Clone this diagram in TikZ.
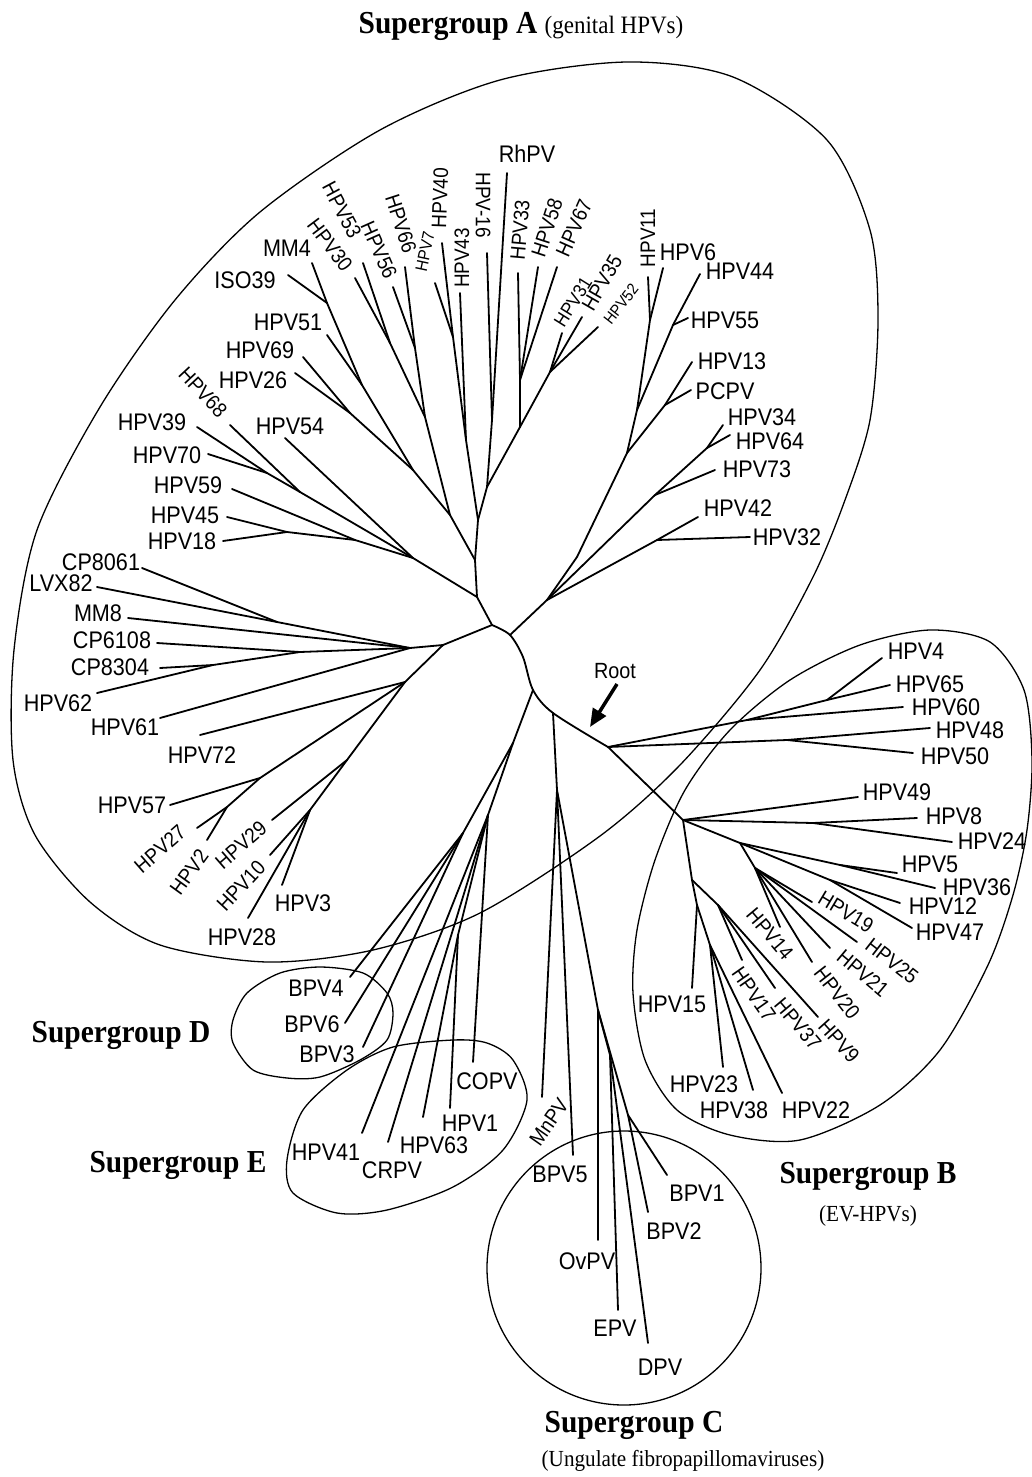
\documentclass[tikz,border=0pt]{standalone}
\usepackage{fontspec}
\setmainfont{Liberation Serif}
\newfontfamily\labfont{Liberation Sans}[FakeStretch=0.9]
\newfontfamily\titfont{Liberation Serif}[FakeStretch=0.92]
\usetikzlibrary{arrows.meta}
\begin{document}
\begin{tikzpicture}[x=1pt,y=-1pt,
  br/.style={line width=1.8pt,line cap=round,line join=round},
  encl/.style={line width=1.3pt},
  lab/.style={font=\labfont\fontsize{24}{24}\selectfont,inner sep=0pt},
  rlab/.style={font=\labfont\fontsize{21}{21}\selectfont,inner sep=0pt},
  slab/.style={font=\labfont\fontsize{19}{19}\selectfont,inner sep=0pt},
  tit/.style={font=\titfont\bfseries\fontsize{32}{32}\selectfont,inner sep=0pt,anchor=base},
  sub/.style={font=\titfont\fontsize{23}{23}\selectfont,inner sep=0pt,anchor=base}]
\fill[white] (0,0) rectangle (1032,1477);
\useasboundingbox (0,0) rectangle (1032,1477);

% ---------- enclosures ----------
\draw[encl] plot[smooth cycle] coordinates {(627,62) (733,77) (827,140) (870,230) (878,320) (870,420) (845,500) (813,577) (760,670) (680,765) (600,836) (480,913) (373,950) (267,962) (160,945) (90,902) (35,835) (13,760) (14,650) (37,530) (100,407) (175,300) (260,212) (380,130) (500,80)};
\draw[encl] plot[smooth cycle] coordinates {(637,930) (655,860) (685,790) (730,730) (790,680) (860,645) (930,630) (990,642) (1024,690) (1032,760) (1027,830) (1013,895) (988,965) (940,1050) (880,1105) (800,1140) (730,1135) (677,1110) (645,1060) (633,993)};
\draw[encl] plot[smooth cycle] coordinates {(320,967) (363,973) (387,993) (393,1013) (387,1040) (360,1060) (320,1077) (287,1078) (253,1070) (233,1043) (233,1020) (247,993) (280,973)};
\draw[encl] plot[smooth cycle] coordinates {(453,1040) (487,1043) (513,1060) (527,1100) (503,1150) (453,1187) (387,1210) (337,1213) (293,1193) (287,1160) (303,1110) (347,1070) (393,1047)};
\draw[encl] (624,1268) circle[radius=137pt];

% ---------- internal coordinates ----------
\coordinate (X1) at (492,625); \coordinate (X2) at (510,635); \coordinate (X3) at (533,690);
\coordinate (X4) at (553,713); \coordinate (X5) at (608,747); \coordinate (X6) at (683,820);
\coordinate (X7) at (740,843);
\coordinate (A1) at (477,597); \coordinate (A2) at (475,560); \coordinate (A3) at (413,558);
\coordinate (J59) at (355,540); \coordinate (J1845) at (287,532); \coordinate (J68) at (300,492);
\coordinate (J3970) at (267,473);
\coordinate (JL) at (450,515); \coordinate (J26m) at (413,470); \coordinate (J69) at (350,413);
\coordinate (J51) at (362,385); \coordinate (Jmm) at (327,303);
\coordinate (Jm1) at (425,417); \coordinate (J3053) at (390,343); \coordinate (J5666) at (415,348);
\coordinate (S1) at (478,520); \coordinate (Jc) at (466,440); \coordinate (J740) at (453,337);
\coordinate (Jr) at (487,487); \coordinate (J16) at (492,420); \coordinate (Jmr) at (520,427);
\coordinate (J3358) at (520,380); \coordinate (J3135) at (550,372);
\coordinate (R0) at (547,600); \coordinate (R1) at (577,557); \coordinate (J627) at (627,453);
\coordinate (Jup) at (637,410); \coordinate (J611) at (650,320); \coordinate (J4455) at (673,325);
\coordinate (J13) at (665,405); \coordinate (J3473) at (655,495); \coordinate (J3464) at (707,448);
\coordinate (J4232) at (657,540);
\coordinate (L0) at (443,645); \coordinate (Jh) at (410,648); \coordinate (Jlo) at (405,682);
\coordinate (J8061) at (277,622); \coordinate (J6108) at (300,652); \coordinate (J8304) at (213,665);
\coordinate (J57) at (260,778); \coordinate (J272) at (227,807); \coordinate (J2910) at (347,760);
\coordinate (J328) at (310,810);
\coordinate (JB1) at (747,720); \coordinate (J465) at (827,700); \coordinate (J4850) at (787,740);
\coordinate (J824) at (813,823); \coordinate (J536) at (840,865); \coordinate (J1247) at (830,880);
\coordinate (J19) at (755,868); \coordinate (JBl) at (692,880); \coordinate (J15) at (697,905);
\coordinate (J2338) at (710,945); \coordinate (J17) at (718,905);
\coordinate (JDE) at (513,743); \coordinate (JD) at (463,833); \coordinate (JE) at (488,815);
\coordinate (J2) at (458,935);
\coordinate (JC0) at (557,790); \coordinate (JC1) at (598,1010); \coordinate (JC2) at (610,1055);
\coordinate (JC3) at (628,1115);

% ---------- leaf ends ----------
\coordinate (lMM4) at (312,263); \coordinate (lISO39) at (288,275); \coordinate (lHPV30) at (355,278);
\coordinate (lHPV53) at (363,263); \coordinate (lHPV56) at (393,287); \coordinate (lHPV66) at (405,267);
\coordinate (lHPV7) at (435,283); \coordinate (lHPV40) at (442,243); \coordinate (lHPV43) at (460,293);
\coordinate (lHPV16) at (487,253); \coordinate (lRhPV) at (507,173); \coordinate (lHPV33) at (518,273);
\coordinate (lHPV58) at (538,267); \coordinate (lHPV67) at (557,267); \coordinate (lHPV31) at (562,333);
\coordinate (lHPV35) at (582,317); \coordinate (lHPV52) at (598,327); \coordinate (lHPV11) at (648,277);
\coordinate (lHPV6) at (663,268); \coordinate (lHPV44) at (700,274); \coordinate (lHPV55) at (688,318);
\coordinate (lHPV13) at (692,362); \coordinate (lPCPV) at (691,390); \coordinate (lHPV34) at (723,425);
\coordinate (lHPV64) at (730,435); \coordinate (lHPV73) at (715,470); \coordinate (lHPV42) at (698,517);
\coordinate (lHPV32) at (750,537);
\coordinate (lHPV51) at (327,335); \coordinate (lHPV69) at (303,357); \coordinate (lHPV26) at (295,373);
\coordinate (lHPV68) at (230,425); \coordinate (lHPV39) at (197,427); \coordinate (lHPV54) at (285,438);
\coordinate (lHPV70) at (208,454); \coordinate (lHPV59) at (232,489); \coordinate (lHPV45) at (227,517);
\coordinate (lHPV18) at (223,541);
\coordinate (lCP8061) at (142,568); \coordinate (lLVX82) at (97,587); \coordinate (lMM8) at (128,618);
\coordinate (lCP6108) at (157,643); \coordinate (lCP8304) at (160,668); \coordinate (lHPV62) at (97,693);
\coordinate (lHPV61) at (160,718); \coordinate (lHPV72) at (200,735); \coordinate (lHPV57) at (170,805);
\coordinate (lHPV27) at (197,828); \coordinate (lHPV2) at (207,840); \coordinate (lHPV29) at (272,820);
\coordinate (lHPV10) at (270,855); \coordinate (lHPV3) at (282,885); \coordinate (lHPV28) at (248,918);
\coordinate (lBPV4) at (350,977); \coordinate (lBPV6) at (345,1023); \coordinate (lBPV3) at (363,1047);
\coordinate (lHPV41) at (362,1133); \coordinate (lCRPV) at (388,1142); \coordinate (lHPV63) at (423,1117);
\coordinate (lHPV1) at (450,1108); \coordinate (lCOPV) at (473,1062); \coordinate (lMnPV) at (542,1097);
\coordinate (lBPV5) at (573,1155); \coordinate (lBPV1) at (667,1175); \coordinate (lBPV2) at (648,1212);
\coordinate (lOvPV) at (598,1240); \coordinate (lEPV) at (618,1310); \coordinate (lDPV) at (648,1343);
\coordinate (lHPV4) at (882,658); \coordinate (lHPV65) at (890,685); \coordinate (lHPV60) at (903,707);
\coordinate (lHPV48) at (930,728); \coordinate (lHPV50) at (913,753); \coordinate (lHPV49) at (858,797);
\coordinate (lHPV8) at (917,818); \coordinate (lHPV24) at (952,842); \coordinate (lHPV5) at (897,873);
\coordinate (lHPV36) at (935,888); \coordinate (lHPV12) at (900,903); \coordinate (lHPV47) at (912,928);
\coordinate (lHPV19) at (812,902); \coordinate (lHPV25) at (857,942); \coordinate (lHPV21) at (830,948);
\coordinate (lHPV20) at (812,962); \coordinate (lHPV14) at (780,927); \coordinate (lHPV9) at (818,1017);
\coordinate (lHPV37) at (775,988); \coordinate (lHPV17) at (742,960); \coordinate (lHPV15) at (692,988);
\coordinate (lHPV23) at (723,1067); \coordinate (lHPV38) at (753,1090); \coordinate (lHPV22) at (782,1093);

% ---------- branches ----------
\draw[br] plot[smooth] coordinates {(492,625) (510,635) (523,657) (533,690) (553,713) (608,747)};
\foreach \a/\b in {X5/X6, X6/X7,
  X1/A1, X1/L0, X2/R0, A1/A2, A1/A3,
  A3/J59, J59/J1845, J1845/lHPV45, J1845/lHPV18, J59/lHPV59,
  A3/J68, J68/J3970, J3970/lHPV39, J3970/lHPV70, J68/lHPV68, A3/lHPV54,
  A2/JL, JL/J26m, J26m/J69, J69/lHPV69, J69/lHPV26, J26m/J51, J51/lHPV51, J51/Jmm,
  Jmm/lMM4, Jmm/lISO39,
  JL/Jm1, Jm1/J3053, J3053/lHPV30, J3053/lHPV53, Jm1/J5666, J5666/lHPV56, J5666/lHPV66,
  A2/S1, S1/Jc, Jc/J740, J740/lHPV7, J740/lHPV40, Jc/lHPV43,
  S1/Jr, Jr/J16, J16/lHPV16, J16/lRhPV,
  Jr/Jmr, Jmr/J3358, J3358/lHPV33, J3358/lHPV58, J3358/lHPV67,
  Jmr/J3135, J3135/lHPV31, J3135/lHPV35, J3135/lHPV52,
  R0/R1, R1/J627, J627/Jup, Jup/J611, J611/lHPV11, J611/lHPV6, Jup/J4455,
  J4455/lHPV44, J4455/lHPV55, J627/J13, J13/lHPV13, J13/lPCPV,
  R0/J3473, J3473/J3464, J3464/lHPV34, J3464/lHPV64, J3473/lHPV73,
  R0/J4232, J4232/lHPV42, J4232/lHPV32,
  L0/Jh, L0/Jlo, Jh/J8061, J8061/lCP8061, J8061/lLVX82, Jh/lMM8,
  Jh/J6108, J6108/lCP6108, J6108/J8304, J8304/lCP8304, J8304/lHPV62, Jh/lHPV61,
  Jlo/lHPV72, Jlo/J57, J57/lHPV57, J57/J272, J272/lHPV27, J272/lHPV2,
  Jlo/J2910, J2910/lHPV29, J2910/J328, J328/lHPV10, J328/lHPV3, J328/lHPV28,
  X5/JB1, JB1/J465, J465/lHPV4, J465/lHPV65, JB1/lHPV60,
  X5/J4850, J4850/lHPV48, J4850/lHPV50,
  X6/lHPV49, X6/J824, J824/lHPV8, J824/lHPV24,
  X7/J536, J536/lHPV5, J536/lHPV36, X7/J1247, J1247/lHPV12, J1247/lHPV47,
  X7/J19, J19/lHPV19, J19/lHPV25, J19/lHPV21, J19/lHPV20, J19/lHPV14,
  X6/JBl, JBl/J15, J15/lHPV15, J15/J2338, J2338/lHPV23, J2338/lHPV38, J2338/lHPV22,
  JBl/J17, J17/lHPV17, J17/lHPV37, J17/lHPV9,
  X3/JDE, JDE/JD, JD/lBPV4, JD/lBPV6, JD/lBPV3,
  JDE/JE, JE/lHPV41, JE/lCRPV, JE/J2, J2/lHPV63, J2/lHPV1, JE/lCOPV,
  X4/JC0, JC0/lMnPV, JC0/lBPV5, JC0/JC1, JC1/lOvPV, JC1/JC2, JC2/lEPV, JC2/lDPV,
  JC1/JC3, JC3/lBPV1, JC3/lBPV2}
  {\draw[br] (\a) -- (\b);}

% ---------- root arrow ----------
\coordinate (rS) at (617,684);
\coordinate (rE) at (590,727);
\draw[line width=3.5pt,-{Triangle[length=18pt,width=15pt]}] (rS) -- (rE);
\node[font=\labfont\fontsize{22}{22}\selectfont,inner sep=0pt] (root) at (615,671) {Root};

% ---------- labels: top ----------
\node[lab] (tMM4) at (287,248) {MM4};
\node[lab] (tISO39) at (245,280) {ISO39};
\node[rlab,rotate=-53] (tHPV30) at (330,245) {HPV30};
\node[rlab,rotate=-62] (tHPV53) at (342,210) {HPV53};
\node[rlab,rotate=-66] (tHPV56) at (379,250) {HPV56};
\node[rlab,rotate=-72] (tHPV66) at (401,224) {HPV66};
\node[font=\labfont\fontsize{17}{17}\selectfont,inner sep=0pt,rotate=78] (tHPV7) at (425,252) {HPV7};
\node[rlab,rotate=88] (tHPV40) at (440,198) {HPV40};
\node[rlab,rotate=90] (tHPV43) at (462,258) {HPV43};
\node[rlab,rotate=-90] (tHPV16) at (483,205) {HPV-16};
\node[lab] (tRhPV) at (527,154) {RhPV};
\node[rlab,rotate=85] (tHPV33) at (520,230) {HPV33};
\node[rlab,rotate=72] (tHPV58) at (547,228) {HPV58};
\node[rlab,rotate=66] (tHPV67) at (574,228) {HPV67};
\node[slab,rotate=58] (tHPV31) at (573,302) {HPV31};
\node[rlab,rotate=60] (tHPV35) at (602,283) {HPV35};
\node[font=\labfont\fontsize{16}{16}\selectfont,inner sep=0pt,rotate=52] (tHPV52) at (621,304) {HPV52};
\node[rlab,rotate=90] (tHPV11) at (648,238) {HPV11};
\node[lab] (tHPV6) at (688,252) {HPV6};
\node[lab] (tHPV44) at (740,271) {HPV44};
\node[lab] (tHPV55) at (725,320) {HPV55};
\node[lab] (tHPV13) at (732,361) {HPV13};
\node[lab] (tPCPV) at (725,391) {PCPV};
\node[lab] (tHPV34) at (762,417) {HPV34};
\node[lab] (tHPV64) at (770,441) {HPV64};
\node[lab] (tHPV73) at (757,469) {HPV73};
\node[lab] (tHPV42) at (738,508) {HPV42};
\node[lab] (tHPV32) at (787,537) {HPV32};

% ---------- labels: left ----------
\node[lab] (tHPV51) at (288,322) {HPV51};
\node[lab] (tHPV69) at (260,350) {HPV69};
\node[lab] (tHPV26) at (253,380) {HPV26};
\node[rlab,rotate=-47] (tHPV68) at (203,392) {HPV68};
\node[lab] (tHPV39) at (152,422) {HPV39};
\node[lab] (tHPV54) at (290,426) {HPV54};
\node[lab] (tHPV70) at (167,455) {HPV70};
\node[lab] (tHPV59) at (188,485) {HPV59};
\node[lab] (tHPV45) at (185,515) {HPV45};
\node[lab] (tHPV18) at (182,541) {HPV18};
\node[lab] (tCP8061) at (101,562) {CP8061};
\node[lab] (tLVX82) at (61,583) {LVX82};
\node[lab] (tMM8) at (98,613) {MM8};
\node[lab] (tCP6108) at (112,640) {CP6108};
\node[lab] (tCP8304) at (110,667) {CP8304};
\node[lab] (tHPV62) at (58,703) {HPV62};
\node[lab] (tHPV61) at (125,727) {HPV61};
\node[lab] (tHPV72) at (202,755) {HPV72};
\node[lab] (tHPV57) at (132,805) {HPV57};
\node[rlab,rotate=41] (tHPV27) at (160,849) {HPV27};
\node[rlab,rotate=54] (tHPV2) at (189,872) {HPV2};
\node[rlab,rotate=41] (tHPV29) at (241,845) {HPV29};
\node[rlab,rotate=47] (tHPV10) at (241,886) {HPV10};
\node[lab] (tHPV3) at (303,903) {HPV3};
\node[lab] (tHPV28) at (242,937) {HPV28};

% ---------- labels: D, E, C ----------
\node[lab] (tBPV4) at (316,988) {BPV4};
\node[lab] (tBPV6) at (312,1024) {BPV6};
\node[lab] (tBPV3) at (327,1054) {BPV3};
\node[lab] (tHPV41) at (326,1152) {HPV41};
\node[lab] (tCRPV) at (392,1170) {CRPV};
\node[lab] (tHPV63) at (434,1145) {HPV63};
\node[lab] (tHPV1) at (470,1123) {HPV1};
\node[lab] (tCOPV) at (487,1081) {COPV};
\node[rlab,rotate=55] (tMnPV) at (549,1122) {MnPV};
\node[lab] (tBPV5) at (560,1174) {BPV5};
\node[lab] (tBPV1) at (697,1193) {BPV1};
\node[lab] (tBPV2) at (674,1231) {BPV2};
\node[lab] (tOvPV) at (587,1261) {OvPV};
\node[lab] (tEPV) at (615,1328) {EPV};
\node[lab] (tDPV) at (660,1367) {DPV};

% ---------- labels: B ----------
\node[lab] (tHPV4) at (916,651) {HPV4};
\node[lab] (tHPV65) at (930,684) {HPV65};
\node[lab] (tHPV60) at (946,707) {HPV60};
\node[lab] (tHPV48) at (970,730) {HPV48};
\node[lab] (tHPV50) at (955,756) {HPV50};
\node[lab] (tHPV49) at (897,792) {HPV49};
\node[lab] (tHPV8) at (954,816) {HPV8};
\node[lab] (tHPV24) at (992,841) {HPV24};
\node[lab] (tHPV5) at (930,864) {HPV5};
\node[lab] (tHPV36) at (977,887) {HPV36};
\node[lab] (tHPV12) at (943,906) {HPV12};
\node[lab] (tHPV47) at (950,932) {HPV47};
\node[rlab,rotate=-31] (tHPV19) at (846,912) {HPV19};
\node[rlab,rotate=-38] (tHPV25) at (892,961) {HPV25};
\node[rlab,rotate=-40] (tHPV21) at (863,973) {HPV21};
\node[rlab,rotate=-52] (tHPV20) at (837,993) {HPV20};
\node[rlab,rotate=-50] (tHPV14) at (770,934) {HPV14};
\node[rlab,rotate=-48] (tHPV9) at (839,1041) {HPV9};
\node[rlab,rotate=-50] (tHPV37) at (798,1024) {HPV37};
\node[rlab,rotate=-55] (tHPV17) at (754,994) {HPV17};
\node[lab] (tHPV15) at (672,1004) {HPV15};
\node[lab] (tHPV23) at (704,1084) {HPV23};
\node[lab] (tHPV38) at (734,1110) {HPV38};
\node[lab] (tHPV22) at (816,1110) {HPV22};

% ---------- group titles ----------
\node[tit] (gA) at (521,34) {Supergroup A {\titfont\mdseries\fontsize{25}{25}\selectfont (genital HPVs)}};
\node[tit] (gD) at (121,1042) {Supergroup D};
\node[tit] (gE) at (178,1172) {Supergroup E};
\node[tit] (gB) at (868,1183) {Supergroup B};
\node[sub] (gBs) at (868,1221) {(EV-HPVs)};
\node[tit] (gC) at (634,1432) {Supergroup C};
\node[sub] (gCs) at (683,1466) {(Ungulate fibropapillomaviruses)};
\end{tikzpicture}
\end{document}
